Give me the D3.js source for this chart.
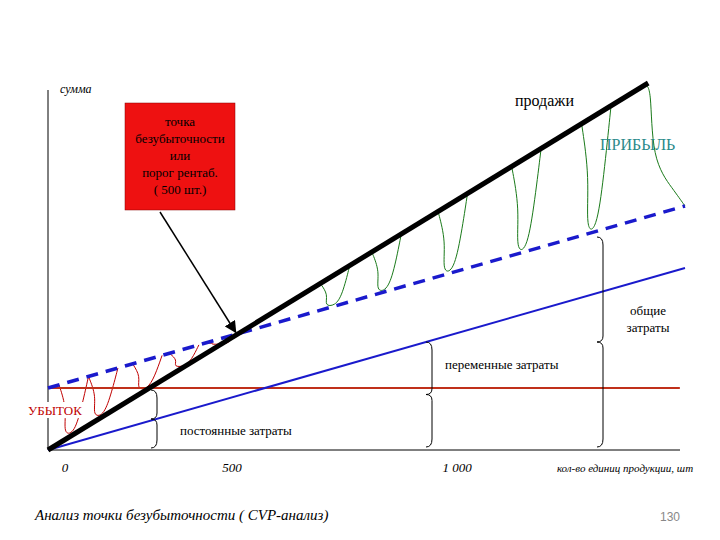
<!DOCTYPE html><html><head><meta charset="utf-8"><script src="https://cdn.jsdelivr.net/npm/d3@7"></script>
<style>body{margin:0;background:#fff} svg text{font-family:"Liberation Serif","DejaVu Serif",serif}</style></head><body><svg id="c" width="720" height="540"></svg>
<script>
const salesQ=[0,1631], salesV=[0,367];
const totalQ=[0,1731], totalV=[62,244];
const varQ=[0,1731], varV=[0,182];
const fixedQ=[0,1717], fixedV=[62,62];
const tickVals=[0,500,1000], tickLabels=["0","500","1 000"];
const profitQ=[740,880,1060,1260,1450];
const lossQ=[30,110,230,330,430];
const svg=d3.select("#c");
const x=d3.scaleLinear().domain([0,1731]).range([48,685]);
const y=d3.scaleLinear().domain([0,360]).range([450,90]);
const lx=d3.scaleLinear().domain([0,500,1000]).range([65,232,457]);
const sales=q=>q*salesV[1]/salesQ[1], tot=q=>totalV[0]+q*(totalV[1]-totalV[0])/totalQ[1];
const sq=(qs,col,fa,fb)=>qs.forEach((q,i)=>{const a=fa(q),b=fb(q+40),m=(a+b)/2;
 svg.append("path").attr("d",d3.line().curve(d3.curveBasis)([[x(q),y(a)],[x(q)+8,y(m)],[x(q)+4,y(b)],[x(q+40),y(b)],[x(q+60),y(m)],[x(q+80),y(fa(q+80))]])).attr("fill","none").attr("stroke",col).attr("stroke-width",1);});
sq(profitQ,"#1a7a1a",sales,tot);
sq(lossQ,"#c00000",tot,sales);
svg.append("path").attr("d",d3.line().curve(d3.curveBasis)([[x(1620),y(sales(1620))],[x(1640),y(sales(1620))],[x(1640),y(290)],[x(1700),y(260)],[x(1731),y(tot(1731))]])).attr("fill","none").attr("stroke","#1a7a1a");
svg.append("line").attr("x1",48).attr("x2",48).attr("y1",90).attr("y2",450).attr("stroke","#000");
svg.append("line").attr("x1",48).attr("x2",680).attr("y1",450).attr("y2",450).attr("stroke","#000");
const ln=(qs,vs,col,w,dash)=>svg.append("line").attr("x1",x(qs[0])).attr("y1",y(vs[0])).attr("x2",x(qs[1])).attr("y2",y(vs[1])).attr("stroke",col).attr("stroke-width",w).attr("stroke-dasharray",dash||null);
ln(fixedQ,fixedV,"#c0301a",2);
ln(varQ,varV,"#1a1acc",2);
ln(totalQ,totalV,"#1a1acc",3.5,"12,8");
ln(salesQ,salesV,"#000",5);
function brace(bx,y1,y2){const m=(y1+y2)/2;svg.append("path").attr("d",`M${bx-6},${y1} Q${bx},${y1} ${bx},${y1+8} L${bx},${m-6} Q${bx},${m} ${bx-6},${m} Q${bx},${m} ${bx},${m+6} L${bx},${y2-8} Q${bx},${y2} ${bx-6},${y2}`).attr("fill","none").attr("stroke","#000");}
brace(603,237,447);brace(432,342,447);brace(157,390,448);
const t=(s,tx,ty,o={})=>{const e=svg.append("text").attr("x",tx).attr("y",ty).text(s).attr("font-size",o.fs||13).attr("fill",o.c||"#000").attr("text-anchor",o.a||"start");if(o.it)e.attr("font-style","italic");if(o.ff)e.style("font-family",o.ff);return e;};
tickVals.forEach((v,i)=>t(tickLabels[i],lx(v),472,{it:1,a:"middle"}));
t("сумма",60,93,{it:1,fs:12});
t("продажи",515,106,{fs:16});
t("ПРИБЫЛЬ",600,150,{fs:16,c:"#2a8a8a"});
t("общие",648,315,{a:"middle"});t("затраты",648,332,{a:"middle"});
t("переменные затраты",445,369);
t("постоянные затраты",180,435);
svg.append("rect").attr("x",28).attr("y",402).attr("width",58).attr("height",16).attr("fill","#fff");
t("УБЫТОК",28,415,{c:"#c00000"});
t("кол-во единиц продукции, шт",625,472,{it:1,fs:11,a:"middle"});
svg.append("rect").attr("x",125).attr("y",103).attr("width",110).attr("height",107).attr("fill","#ee1111").attr("stroke","#800").attr("stroke-width",0.5);
["точка","безубыточности","или","порог рентаб.","( 500 шт.)"].forEach((s,i)=>t(s,180,126+i*17,{a:"middle"}));
svg.append("defs").append("marker").attr("id","ar").attr("viewBox","0 0 10 10").attr("refX",9).attr("refY",5).attr("markerWidth",8).attr("markerHeight",8).attr("orient","auto").append("path").attr("d","M0,0L10,5L0,10z");
svg.append("line").attr("x1",160).attr("y1",212).attr("x2",x(510)).attr("y2",y(sales(510))-3).attr("stroke","#000").attr("stroke-width",1.5).attr("marker-end","url(#ar)");
t("Анализ точки безубыточности ( CVP-анализ)",35,520,{it:1,fs:15});
t("130",670,521,{fs:12,c:"#888",a:"middle",ff:"Liberation Sans"});
</script></body></html>
